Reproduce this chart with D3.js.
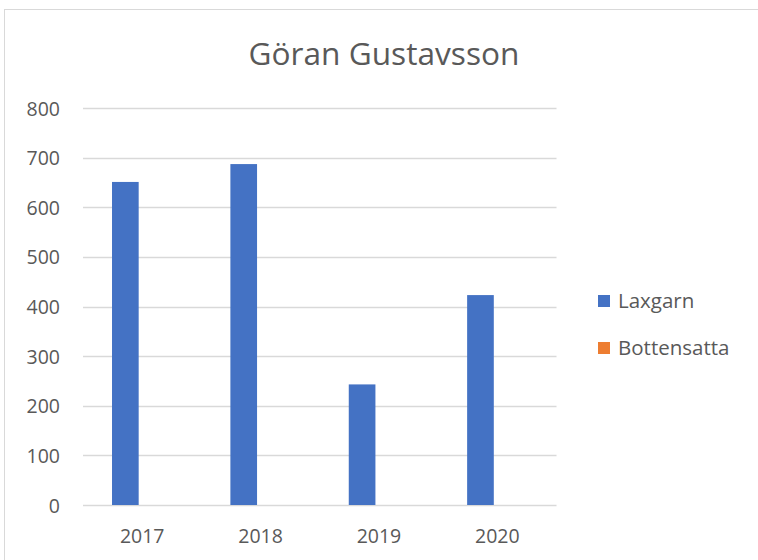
<!DOCTYPE html>
<html><head><meta charset="utf-8">
<script src="https://cdn.jsdelivr.net/npm/d3@7"></script>
<style>body{margin:0;background:#fff}svg{display:block}</style>
</head><body><svg id="c" width="758" height="560"></svg>
<script>
const categories = ["2017","2018","2019","2020"];
const seriesNames = ["Laxgarn","Bottensatta"];
const laxgarn = [651, 687, 243, 423];
const bottensatta = [0, 0, 0, 0];
const yTicks = [0,100,200,300,400,500,600,700,800];
const colors = ["#4472C4","#ED7D31"];
const title = "Göran Gustavsson";

const font = "'Open Sans', sans-serif";
const svg = d3.select("#c");
svg.append("rect").attr("x",4.5).attr("y",9.5).attr("width",900).attr("height",700)
  .attr("fill","#fff").attr("stroke","#D9D9D9").attr("stroke-width",1);

const L=83, R=556.5, T=108, B=505;
const y = d3.scaleLinear().domain([0,800]).range([B,T]);
const x = d3.scaleBand().domain(categories).range([L,R]);
const inner = d3.scaleBand().domain(seriesNames).range([0,x.bandwidth()]).paddingInner(0).paddingOuter(1.22).align(0.446);

svg.append("g").selectAll("line").data(yTicks).join("line")
  .attr("x1",L).attr("x2",R).attr("y1",d=>Math.round(y(d))+0.5).attr("y2",d=>Math.round(y(d))+0.5)
  .attr("stroke","#D9D9D9").attr("stroke-width",1.5);

const yAxis = d3.axisLeft(y).tickValues(yTicks).tickSize(0).tickPadding(0);
const ga = svg.append("g").attr("transform",`translate(${60},0)`).call(yAxis);
ga.select(".domain").remove();
ga.selectAll("text").attr("font-family",font).attr("font-size",19.5).attr("fill","#595959").attr("dy","0.36em");

const xAxis = d3.axisBottom(x).tickSize(0).tickPadding(0);
const gx = svg.append("g").attr("transform",`translate(0,${543})`).call(xAxis);
gx.select(".domain").remove();
gx.selectAll("text").attr("font-family",font).attr("font-size",19.5).attr("fill","#595959").attr("dy","0");

const series = [laxgarn, bottensatta];
series.forEach((vals,si)=>{
  svg.append("g").selectAll("rect").data(vals).join("rect")
    .attr("x",(d,i)=>x(categories[i])+inner(seriesNames[si]))
    .attr("width",inner.bandwidth())
    .attr("y",d=>y(d)).attr("height",d=>B-y(d))
    .attr("fill",colors[si]);
});

const tt = svg.append("text").attr("x",384).attr("y",65).attr("text-anchor","middle")
  .attr("font-family",font).attr("font-size",30).attr("fill","#595959").text(title);
const w = tt.node().getComputedTextLength();
tt.attr("font-size", 30*271/w);

const lg = svg.append("g");
seriesNames.forEach((n,i)=>{
  const yy = 301 + i*47;
  lg.append("rect").attr("x",598).attr("y",yy-6).attr("width",12).attr("height",12).attr("fill",colors[i]);
  lg.append("text").attr("x",618).attr("y",yy).attr("dy","0.36em")
    .attr("font-family",font).attr("font-size",20.5).attr("fill","#595959").text(n);
});
</script></body></html>
